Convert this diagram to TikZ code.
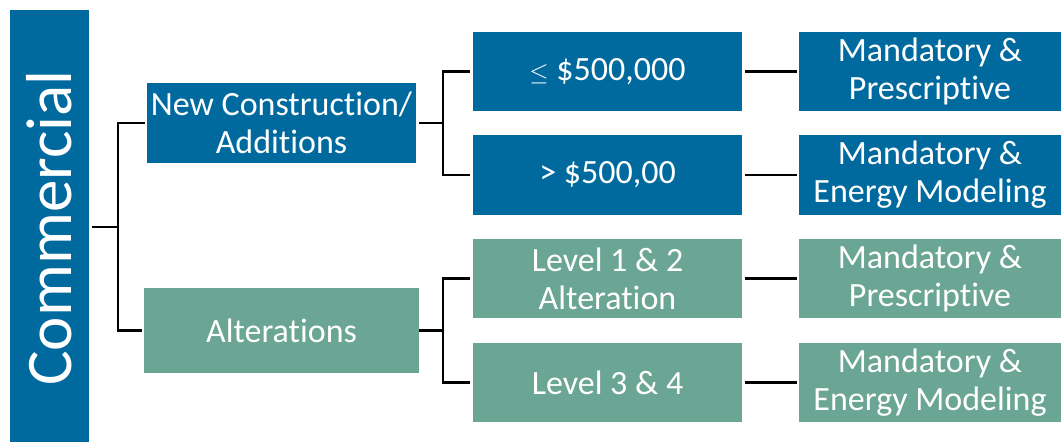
\documentclass[tikz,border=0pt]{standalone}
\usepackage{fontspec}
\setmainfont[RawFeature={-liga}]{Carlito}
\definecolor{cblue}{RGB}{0,106,159}
\definecolor{cgreen}{RGB}{107,165,148}
\begin{document}
\begin{tikzpicture}[x=1pt,y=-1pt,
  box/.style={draw=none,inner sep=0pt,text=white,align=center,
    font=\fontsize{34}{38}\selectfont},
  bluebox/.style={box,fill=cblue},
  greenbox/.style={box,fill=cgreen},
  conn/.style={draw=black,line width=2.6pt}]
\useasboundingbox (0,0) rectangle (1061,442);
\node[bluebox,minimum width=79pt,minimum height=432pt] (com) at (49.5,226) {};
\node[text=white,rotate=90,font=\fontsize{65}{70}\selectfont,inner sep=0pt] (comt) at (49.5,228) {Commercial};
\node[bluebox,minimum width=269pt,minimum height=80pt] (nc) at (281.5,123) {New Construction/\\Additions};
\node[greenbox,minimum width=275pt,minimum height=85pt] (alt) at (281.5,330.5) {Alterations};
\node[bluebox,minimum width=269pt,minimum height=79pt] (a1) at (607.5,71.5) {$\leq$ \$500,000};
\node[bluebox,minimum width=269pt,minimum height=80pt] (a2) at (607.5,175) {> \$500,00};
\node[greenbox,minimum width=269pt,minimum height=79pt] (a3) at (607.5,278.5) {Level 1 \& 2\\Alteration};
\node[greenbox,minimum width=269pt,minimum height=79pt] (a4) at (607.5,382.5) {Level 3 \& 4};
\node[bluebox,minimum width=262pt,minimum height=79pt] (r1) at (930,71.5) {Mandatory \&\\Prescriptive};
\node[bluebox,minimum width=262pt,minimum height=80pt] (r2) at (930,175) {Mandatory \&\\Energy Modeling};
\node[greenbox,minimum width=262pt,minimum height=79pt] (r3) at (930,278.5) {Mandatory \&\\Prescriptive};
\node[greenbox,minimum width=262pt,minimum height=79pt] (r4) at (930,382.5) {Mandatory \&\\Energy Modeling};
\coordinate (j0) at (118,227);
\coordinate (j1) at (443,123);
\coordinate (j2) at (443,330.5);
\draw[conn,shorten <=3pt] (com.east |- j0) -- (j0);
\draw[conn,shorten >=2pt] (j0) |- (nc.west);
\draw[conn,shorten >=2pt] (j0) |- (alt.west);
\draw[conn,shorten <=3pt] (nc.east) -- (j1);
\draw[conn,shorten >=3pt] (j1) |- (a1.west);
\draw[conn,shorten >=3pt] (j1) |- (a2.west);
\draw[conn] (alt.east) -- (j2);
\draw[conn,shorten >=3pt] (j2) |- (a3.west);
\draw[conn,shorten >=3pt] (j2) |- (a4.west);
\draw[conn,shorten <=3pt,shorten >=2pt] (a1.east) -- (r1.west);
\draw[conn,shorten <=3pt,shorten >=2pt] (a2.east) -- (r2.west);
\draw[conn,shorten <=3pt,shorten >=2pt] (a3.east) -- (r3.west);
\draw[conn,shorten <=3pt,shorten >=2pt] (a4.east) -- (r4.west);
\end{tikzpicture}
\end{document}
